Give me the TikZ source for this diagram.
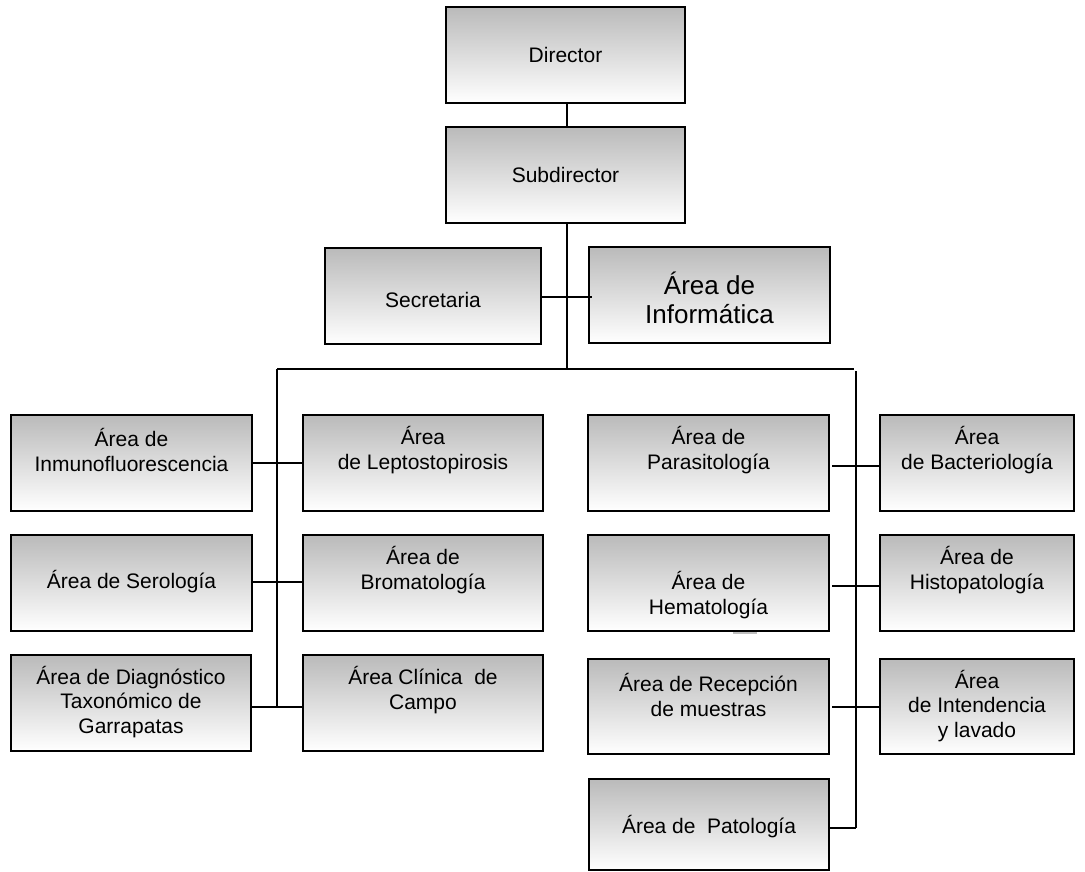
\documentclass[tikz,border=0pt]{standalone}
\usepackage{fontspec}
\setmainfont{Liberation Sans}
\tikzset{
  box/.style={draw=black, line width=1.8pt, top color=black!27, bottom color=white, inner sep=0pt, minimum height=96pt},
  lbl/.style={align=center, inner sep=0pt, font=\fontsize{21pt}{24.5pt}\selectfont},
  biglbl/.style={align=center, inner sep=0pt, font=\fontsize{26pt}{29pt}\selectfont},
  conn/.style={draw=black, line width=1.5pt}
}
\begin{document}
\begin{tikzpicture}[x=1pt,y=-1pt]
\useasboundingbox (0,0) rectangle (1085,872);
% top
\node[box, minimum width=239pt] (director) at (565.5,55) {};
\node[box, minimum width=239pt] (sub) at (565.5,175) {};
\node[box, minimum width=216pt] (sec) at (433,296) {};
\node[box, minimum width=241pt] (inf) at (709.5,295) {};
% left block
\node[box, minimum width=241pt] (inmu) at (131.5,463) {};
\node[box, minimum width=240pt] (lepto) at (423,463) {};
\node[box, minimum width=241pt] (sero) at (131.5,583) {};
\node[box, minimum width=240pt] (broma) at (423,583) {};
\node[box, minimum width=240pt] (diag) at (131,703) {};
\node[box, minimum width=240pt] (clin) at (423,703) {};
% right block
\node[box, minimum width=241pt] (para) at (708.5,463) {};
\node[box, minimum width=194pt] (bact) at (977,463) {};
\node[box, minimum width=241pt] (hema) at (708.5,583) {};
\node[box, minimum width=194pt] (histo) at (977,583) {};
\node[box, minimum width=241pt, minimum height=95pt] (recep) at (708.5,706.5) {};
\node[box, minimum width=194pt, minimum height=95pt] (inten) at (977,706.5) {};
\node[box, minimum width=240pt, minimum height=91pt] (pato) at (709,824.5) {};
% labels
\node[lbl] (t-director) at (565.5,55) {Director};
\node[lbl] (t-sub) at (565.5,175) {Subdirector};
\node[lbl] (t-sec) at (433,300) {Secretaria};
\node[biglbl] (t-inf) at (709.5,298) {Área de\\Informática};
\node[lbl] (t-inmu) at (131.5,450) {Área de\\Inmunofluorescencia};
\node[lbl] (t-lepto) at (423,450) {Área\\de Leptostopirosis};
\node[lbl] (t-sero) at (131.5,582) {Área de Serología};
\node[lbl] (t-broma) at (423,570) {Área de\\Bromatología};
\node[lbl] (t-diag) at (131,702) {Área de Diagnóstico\\Taxonómico de\\Garrapatas};
\node[lbl] (t-clin) at (423,690) {Área Clínica\ \ de\\Campo};
\node[lbl] (t-para) at (708.5,450) {Área de\\Parasitología};
\node[lbl] (t-bact) at (977,450) {Área\\de Bacteriología};
\node[lbl] (t-hema) at (708.5,595) {Área de\\Hematología};
\node[lbl] (t-histo) at (977,570) {Área de\\Histopatología};
\node[lbl] (t-recep) at (708.5,695) {Área de Recepción\\de muestras};
\node[lbl] (t-inten) at (977,706) {Área\\de Intendencia\\y lavado};
\node[lbl] (t-pato) at (709,827) {Área de\ \ Patología};
% coordinates
\coordinate (busM) at (567,369);
\coordinate (busL) at (277,369);
\coordinate (busR) at (854,369);
\coordinate (rvTop) at (856,371);
\coordinate (rvBot) at (856,828);
\coordinate (lvBot) at (277,707);
\coordinate (secJ) at (592,297);
\coordinate (r1a) at (832,466);
\coordinate (r2a) at (832,586);
\coordinate (r3a) at (832,707);
% connectors
\draw[conn] (director.south -| busM) -- (sub.north -| busM);
\draw[conn] (sub.south -| busM) -- (busM);
\draw[conn] (sec.east |- secJ) -- (secJ);
\draw[conn] (busL) -- (busR);
\draw[conn] (busL) -- (lvBot);
\draw[conn] (rvTop) -- (rvBot);
\draw[conn] (inmu.east) -- (lepto.west);
\draw[conn] (sero.east |- 0,582) -- (broma.west |- 0,582);
\draw[conn] (diag.east |- lvBot) -- (clin.west |- lvBot);
\draw[conn] (r1a) -- (bact.west |- r1a);
\draw[conn] (r2a) -- (histo.west |- r2a);
\draw[conn] (r3a) -- (inten.west |- r3a);
\draw[conn] (pato.east |- rvBot) -- (rvBot);
% small artifact under Hematologia
\coordinate (artA) at (733,633);
\coordinate (artB) at (757,633);
\draw[black!25, line width=2pt] (artA) -- (artB);
\end{tikzpicture}
\end{document}
